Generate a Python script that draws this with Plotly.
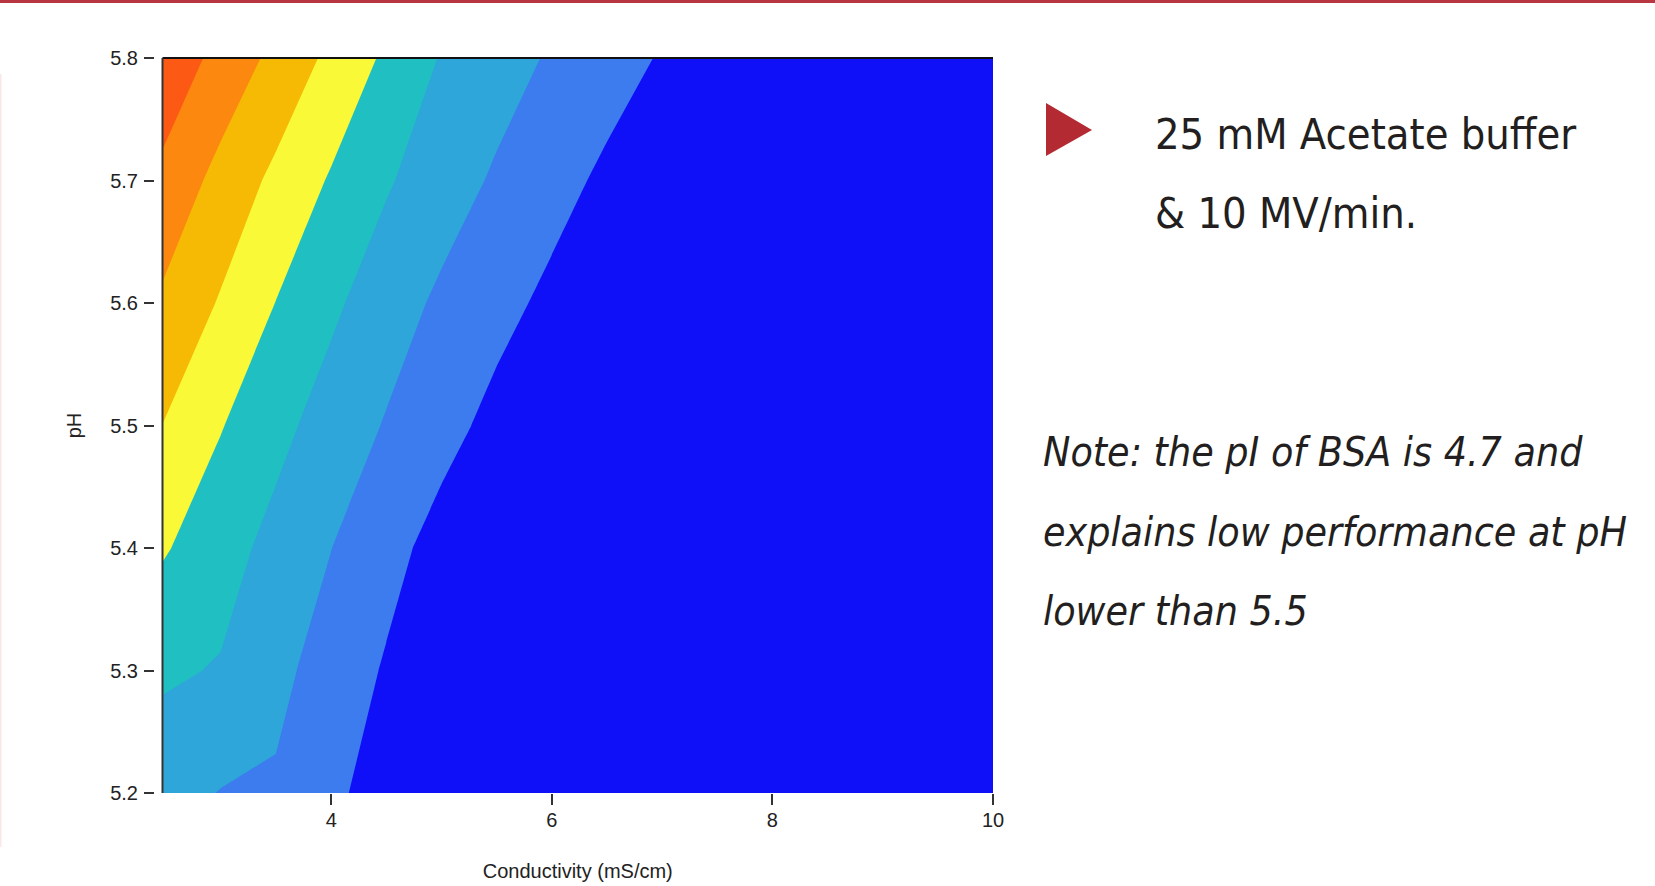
import plotly.graph_objects as go

# ---------------- data ----------------
conductivity = [2.47, 3.0, 3.5, 4.0, 4.5, 5.0, 5.5, 6.0, 6.5, 7.0, 8.0, 10.0]
ph = [5.2, 5.3, 5.4, 5.5, 5.6, 5.7, 5.8]
response = [
    [2.40, 1.96, 1.887, 1.215, 0.54, -0.10, -0.70, -1.00, -1.00, -1.00, -1.00, -1.00],
    [3.15, 2.93, 2.24, 1.60, 0.90, 0.20, -0.50, -1.00, -1.00, -1.00, -1.00, -1.00],
    [4.11, 3.38, 2.70, 2.01, 1.33, 0.64, -0.04, -0.70, -1.00, -1.00, -1.00, -1.00],
    [4.99, 4.05, 3.28, 2.58, 1.93, 1.33, 0.72, 0.12, -0.48, -1.00, -1.00, -1.00],
    [5.84, 4.91, 3.98, 3.18, 2.46, 1.82, 1.30, 0.78, 0.26, -0.26, -1.00, -1.00],
    [6.76, 5.67, 4.77, 3.90, 3.10, 2.46, 1.87, 1.34, 0.81, 0.28, -0.72, -1.00],
    [7.71, 6.69, 5.73, 4.77, 3.83, 2.93, 2.41, 1.89, 1.41, 0.92, -0.05, -1.00],
]
level_colors = ["#1010f8", "#3c7cee", "#2ea6da", "#20c0c2",
                "#f9f938", "#f6b904", "#fc880f", "#fc5914"]
x_ticks = [4, 6, 8, 10]
y_ticks = [5.2, 5.3, 5.4, 5.5, 5.6, 5.7, 5.8]
x_title = "Conductivity (mS/cm)"
y_title = "pH"
headline = ["25 mM Acetate buffer", "&amp; 10 MV/min."]
note = ["Note: the pI of BSA is 4.7 and",
        "explains low performance at pH",
        "lower than 5.5"]

# ---------------- layout geometry (pixels) ----------------
W, H = 1655, 886
ML, MR, MT, MB = 154, 662, 58, 93
PW, PH = W - ML - MR, H - MT - MB
PLOT_LEFT = 162.5


def px(x):
    return (x - ML) / PW


def py(y):
    return (H - MB - y) / PH


# stepwise colour scale, one step per band
n = len(level_colors)
colorscale = []
for i, c in enumerate(level_colors):
    lo = max(0.0, (i - 0.5) / (n - 1))
    hi = min(1.0, (i + 0.5) / (n - 1))
    colorscale += [[lo, c], [hi, c]]

fig = go.Figure(go.Contour(
    x=conductivity, y=ph, z=response,
    colorscale=colorscale,
    contours=dict(start=1, end=7, size=1, coloring="fill", showlines=False),
    line=dict(width=0, smoothing=0),
    showscale=False,
    hoverinfo="skip",
))

tick_font = dict(family="Liberation Sans, Arial, sans-serif", size=20, color="#222222")
side_font = "DejaVu Sans Condensed, Liberation Sans Narrow, Arial Narrow, Liberation Sans, sans-serif"

fig.update_layout(
    width=W, height=H,
    margin=dict(l=ML, r=MR, t=MT, b=MB, pad=0, autoexpand=False),
    paper_bgcolor="white", plot_bgcolor="white",
    showlegend=False,
    xaxis=dict(
        domain=[px(PLOT_LEFT), 1], range=[2.47, 10], anchor="y", automargin=False,
        tickvals=x_ticks, ticks="outside", ticklen=11, tickwidth=2, tickcolor="#333333",
        ticklabelstandoff=-2,
        showgrid=False, zeroline=False, showline=False, tickfont=tick_font,
        title=dict(text=x_title, font=tick_font, standoff=33),
    ),
    yaxis=dict(
        domain=[0, 1], range=[5.2, 5.8], anchor="free", position=0, automargin=False,
        tickvals=y_ticks, ticktext=[f"{v:.1f}" for v in y_ticks],
        ticks="outside", ticklen=10, tickwidth=2, tickcolor="#333333",
        ticklabelstandoff=2,
        showgrid=False, zeroline=False, showline=False, tickfont=tick_font,
        title=dict(text=y_title, font=tick_font, standoff=22),
    ),
)

shapes = [
    # frame lines (top and left) of the plot area
    dict(type="line", xref="paper", yref="paper", x0=px(PLOT_LEFT), x1=1, y0=1, y1=1,
         line=dict(color="#111111", width=2)),
    dict(type="line", xref="paper", yref="paper", x0=px(PLOT_LEFT), x1=px(PLOT_LEFT), y0=0, y1=1,
         line=dict(color="#333333", width=2)),
    # red rule at the top of the slide
    dict(type="line", xref="paper", yref="paper", x0=px(0), x1=px(W), y0=py(1.5), y1=py(1.5),
         line=dict(color="#b7363f", width=3)),
    # faint pink rule on the left edge
    dict(type="line", xref="paper", yref="paper", x0=px(0.75), x1=px(0.75), y0=py(74), y1=py(847),
         line=dict(color="#fbe6e9", width=1.5)),
    # red bullet triangle
    dict(type="path", xref="paper", yref="paper",
         path=f"M {px(1046)} {py(103)} L {px(1046)} {py(156)} L {px(1092)} {py(130)} Z",
         fillcolor="#b32a33", line=dict(width=0)),
]
fig.update_layout(shapes=shapes)

annotations = []
for i, t in enumerate(headline):
    annotations.append(dict(
        text=t, xref="paper", yref="paper", x=px(1153), y=py(134 + 79 * i),
        xanchor="left", yanchor="middle", showarrow=False,
        font=dict(family=side_font, size=43, color="#231f20"),
    ))
for i, t in enumerate(note):
    annotations.append(dict(
        text=f"<i>{t}</i>", xref="paper", yref="paper", x=px(1041), y=py(452 + 79.5 * i),
        xanchor="left", yanchor="middle", showarrow=False,
        font=dict(family=side_font, size=40.7, color="#231f20"),
    ))
fig.update_layout(annotations=annotations)

fig.write_html(
    "out.html",
    config={"displayModeBar": False},
    post_script="document.body.style.margin='0';document.body.style.padding='0';",
)
